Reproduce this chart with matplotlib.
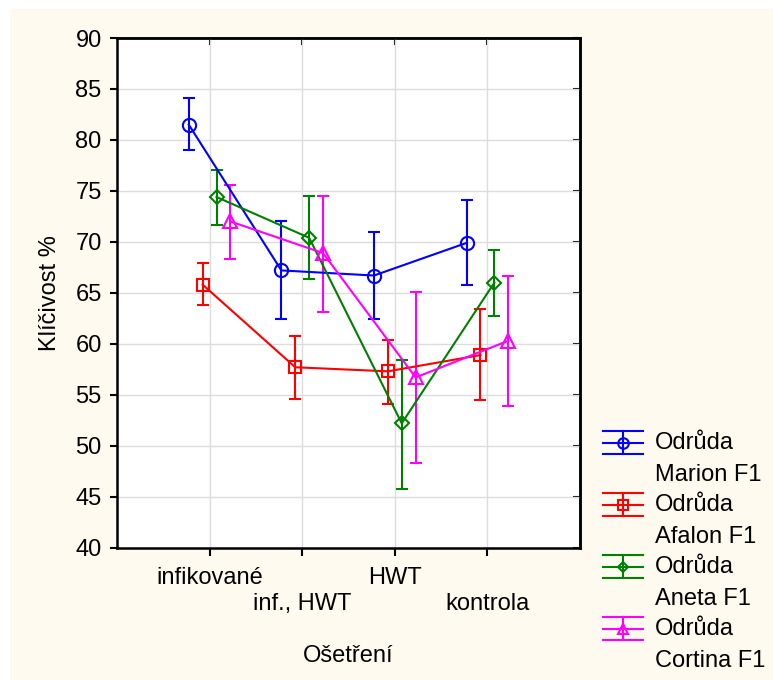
import matplotlib
matplotlib.use("Agg")
import matplotlib.pyplot as plt
import numpy as np
from matplotlib.lines import Line2D
from matplotlib.patches import Rectangle

plt.rcParams["font.family"] = ["Liberation Sans", "DejaVu Sans"]

categories = ["infikované", "inf., HWT", "HWT", "kontrola"]

marion_mean = [81.5, 67.2, 66.7, 69.9]
marion_lo = [79.0, 62.4, 62.4, 65.8]
marion_hi = [84.1, 72.0, 71.0, 74.1]

afalon_mean = [65.8, 57.7, 57.3, 58.9]
afalon_lo = [63.8, 54.6, 54.1, 54.5]
afalon_hi = [67.9, 60.8, 60.4, 63.4]

aneta_mean = [74.4, 70.4, 52.2, 66.0]
aneta_lo = [71.7, 66.4, 45.8, 62.7]
aneta_hi = [77.1, 74.5, 58.4, 69.2]

cortina_mean = [72.0, 68.9, 56.7, 60.3]
cortina_lo = [68.3, 63.1, 48.3, 53.9]
cortina_hi = [75.6, 74.5, 65.1, 66.7]

series = [
    ("Odrůda\nMarion F1", marion_mean, marion_lo, marion_hi, "#0000FF", "o", 9.5),
    ("Odrůda\nAfalon F1", afalon_mean, afalon_lo, afalon_hi, "#FF0000", "s", 8.5),
    ("Odrůda\nAneta F1", aneta_mean, aneta_lo, aneta_hi, "#008000", "D", 7),
    ("Odrůda\nCortina F1", cortina_mean, cortina_lo, cortina_hi, "#FF00FF", "^", 9.5),
]
offsets = [-0.225, -0.075, 0.075, 0.225]

W, H = 773, 680
fig = plt.figure(figsize=(W / 100, H / 100), dpi=100)
fig.patch.set_facecolor("white")
# cream panel behind everything, thin white frame on top and left
fig.add_artist(Rectangle((10 / W, 0), 1, 1 - 9 / H, transform=fig.transFigure,
                         facecolor="#FFFAF0", edgecolor="none", zorder=-10))

ax = fig.add_axes([117 / W, 1 - 547.7 / H, 463 / W, 509.7 / H])
ax.set_facecolor("white")

x = np.arange(1, len(categories) + 1)
for (label, mean, lo, hi, color, marker, ms), off in zip(series, offsets):
    mean = np.array(mean)
    yerr = [mean - np.array(lo), np.array(hi) - mean]
    ax.errorbar(x + off, mean, yerr=yerr, color=color, marker=marker,
                markersize=ms, markerfacecolor="none", markeredgewidth=1.5,
                linewidth=1.5, elinewidth=1.5, capsize=4, capthick=1.5,
                zorder=3)

ax.set_xlim(0, 5)
ax.set_ylim(40, 90)
ax.set_yticks(np.arange(40, 91, 5))
ax.set_xticks(x)
ax.set_xticklabels([c if i % 2 == 0 else "\n" + c
                    for i, c in enumerate(categories)], fontsize=17,
                   linespacing=1.25)
ax.tick_params(axis="y", labelsize=17, direction="out", length=5, width=1.5,
               pad=6)
ax.tick_params(axis="x", direction="out", length=6, width=1.5, pad=8)
ax.grid(True, color="#DCDCDC", linewidth=1)
ax.set_axisbelow(True)
for sp in ax.spines.values():
    sp.set_linewidth(1.8)

sec_x = ax.secondary_xaxis("top")
sec_x.set_xticks(x)
sec_x.tick_params(direction="in", length=5, width=1.5, labeltop=False)
sec_x.spines["top"].set_linewidth(1.8)
sec_y = ax.secondary_yaxis("right")
sec_y.set_yticks(np.arange(40, 91, 5))
sec_y.tick_params(direction="in", length=5, width=1.5, labelright=False)
sec_y.spines["right"].set_linewidth(1.8)

ax.set_xlabel("Ošetření", fontsize=17, va="baseline")
ax.xaxis.set_label_coords(0.5, -114 / 509.7)
ax.set_ylabel("Klíčivost %", fontsize=17, labelpad=10)

# legend drawn by hand: error-bar glyph plus two-line label
for i, (label, mean, lo, hi, color, marker, ms) in enumerate(series):
    cy = 443 + i * 62
    x0, x1, xc = 603, 643, 623
    for yy in (cy - 12, cy, cy + 11):
        fig.add_artist(Line2D([x0 / W, x1 / W], [1 - yy / H, 1 - yy / H],
                              color=color, linewidth=1.5,
                              transform=fig.transFigure))
    fig.add_artist(Line2D([xc / W, xc / W], [1 - (cy - 12) / H, 1 - (cy + 11) / H],
                          color=color, linewidth=1.5, transform=fig.transFigure))
    fig.add_artist(Line2D([xc / W], [1 - cy / H], color=color, marker=marker,
                          markersize=ms * 0.8, markerfacecolor="none",
                          markeredgewidth=1.5, transform=fig.transFigure))
    fig.text(655 / W, 1 - cy / H, label.split("\n")[0], fontsize=17,
             va="center", ha="left")
    fig.text(655 / W, 1 - (cy + 32) / H, label.split("\n")[1], fontsize=17,
             va="center", ha="left")

fig.savefig("out.png", dpi=100)
